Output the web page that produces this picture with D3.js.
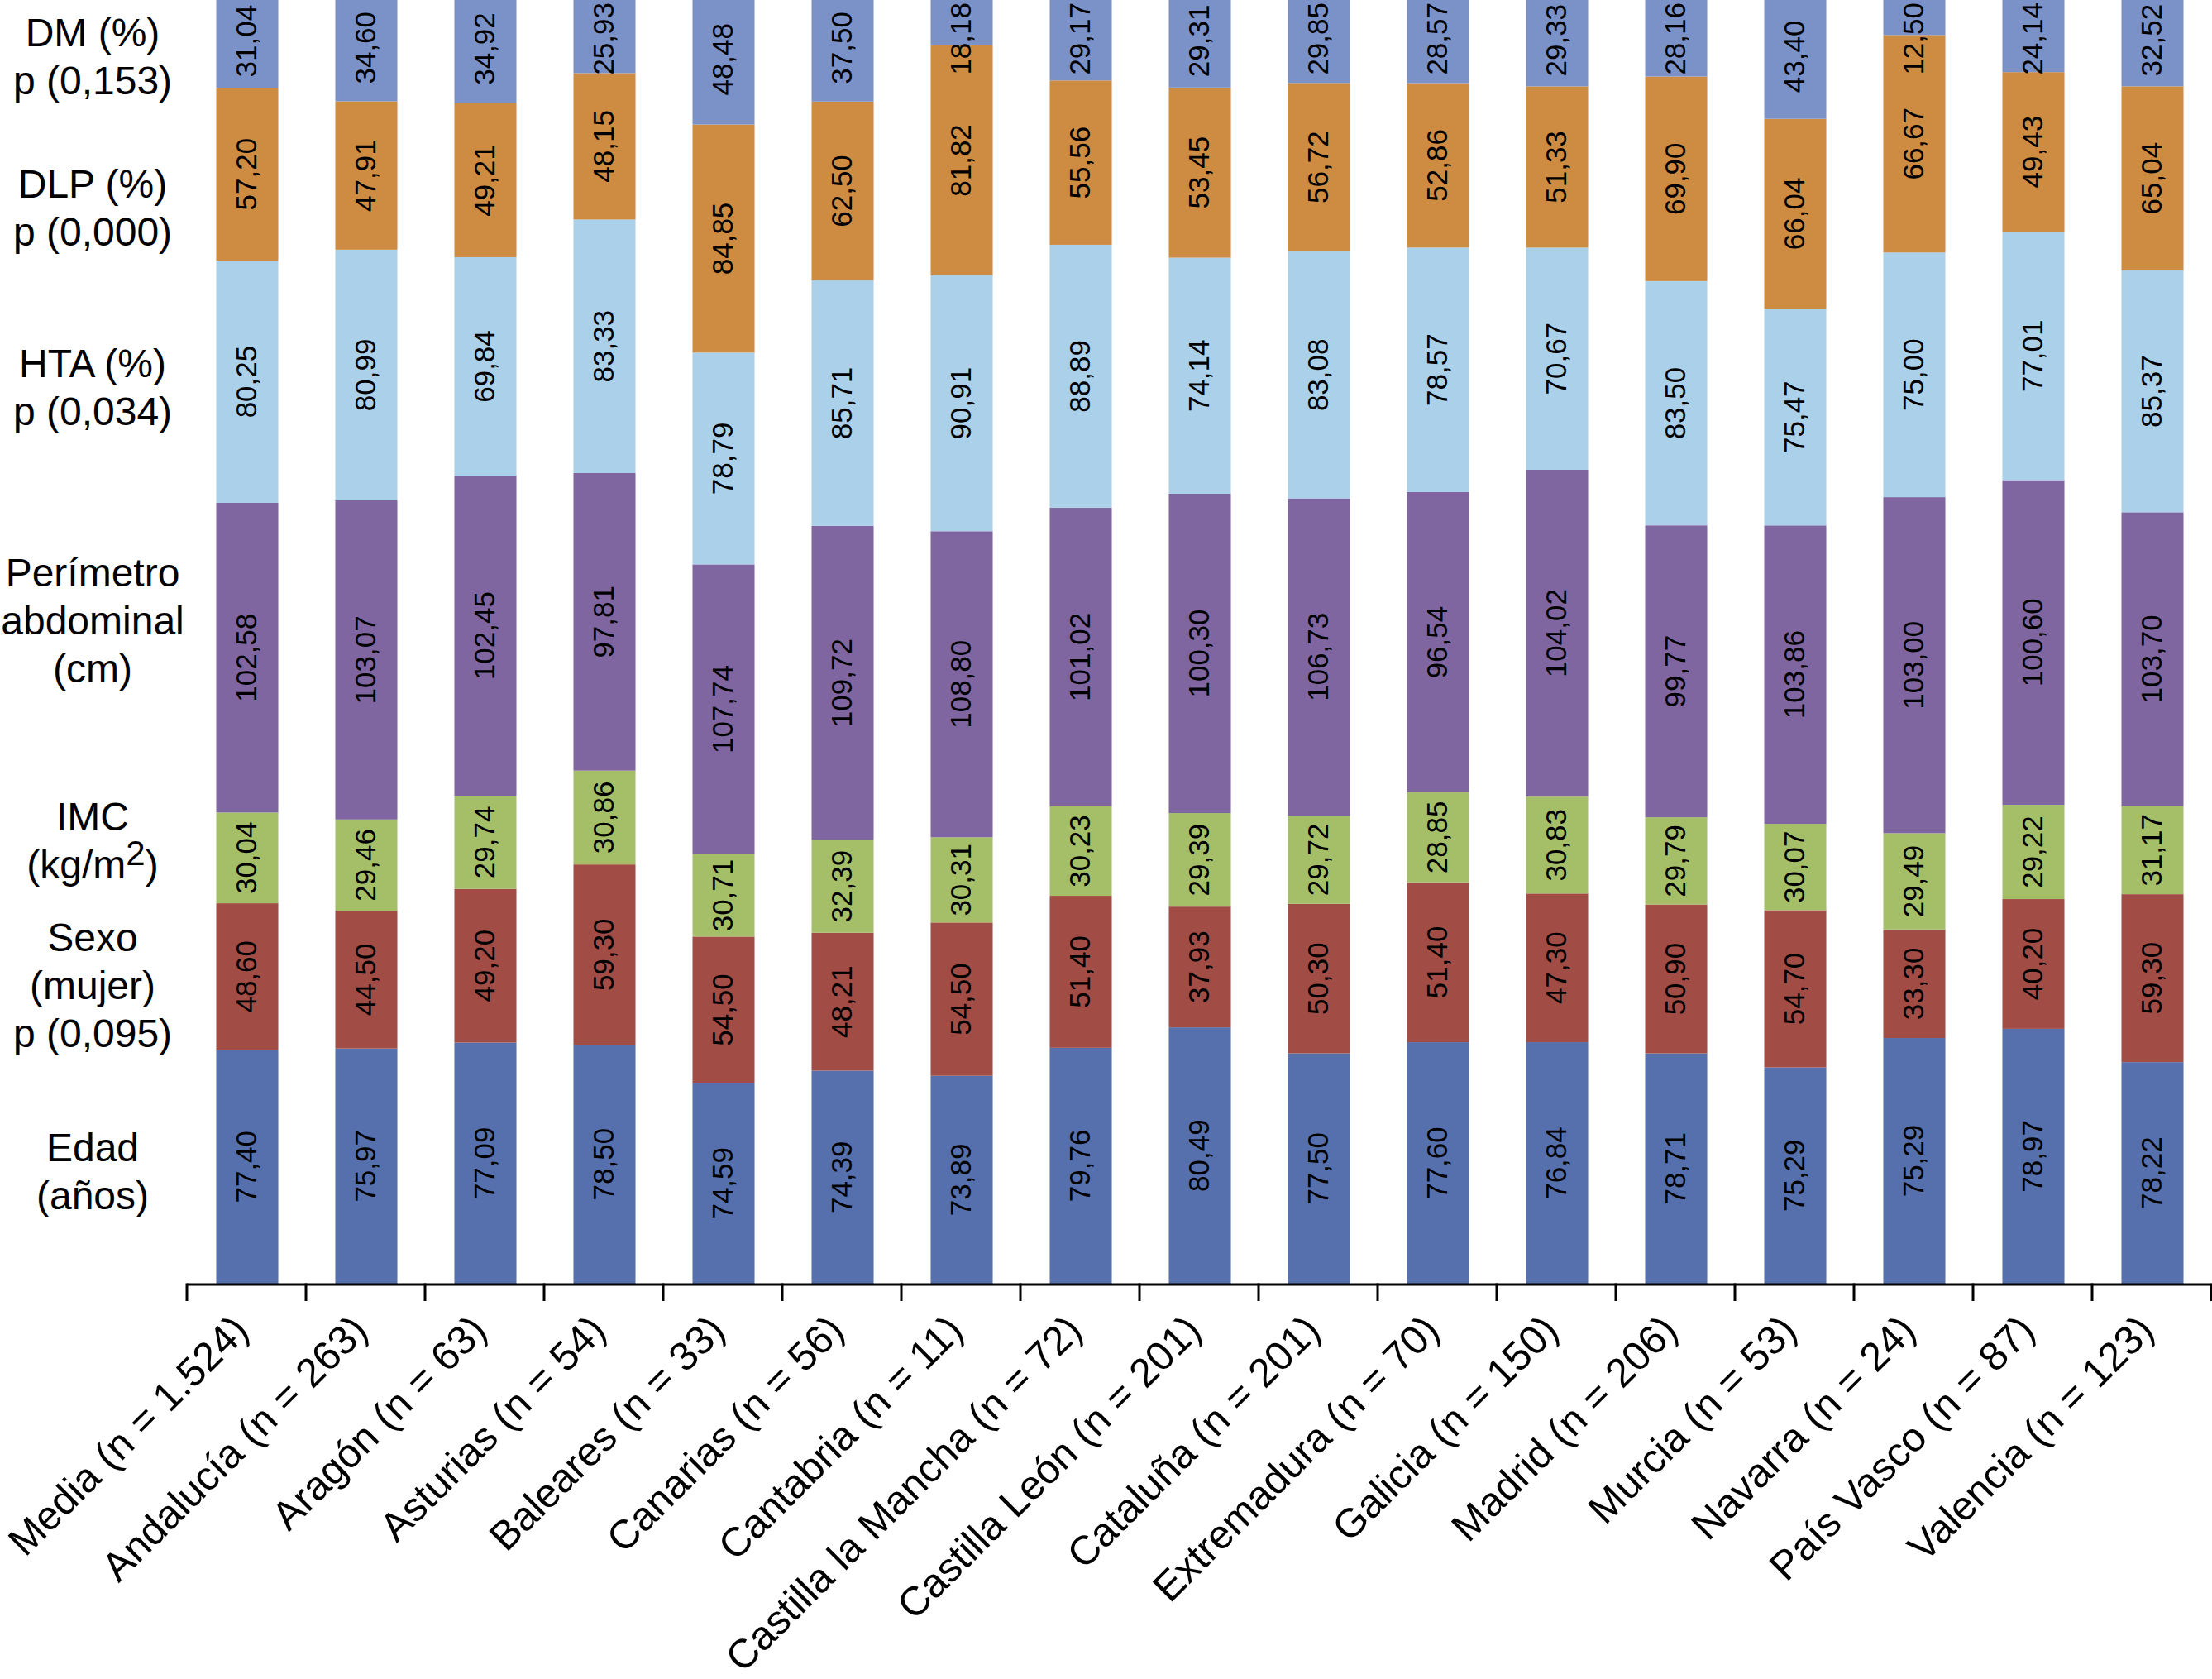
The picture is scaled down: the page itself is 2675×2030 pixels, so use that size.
<!DOCTYPE html>
<html>
<head>
<meta charset="utf-8">
<script src="https://cdn.jsdelivr.net/npm/d3@7"></script>
<style>
  html, body { margin: 0; padding: 0; background: #ffffff; }
  svg { display: block; }
  text { font-family: "Liberation Sans", Arial, Helvetica, sans-serif; fill: #000; }
</style>
</head>
<body>
<svg id="chart" width="2675" height="2030"></svg>
<script>
// ---------------- DATA ----------------
const categories = [
  "Media (n = 1.524)", "Andalucía (n = 263)", "Aragón (n = 63)", "Asturias (n = 54)",
  "Baleares (n = 33)", "Canarias (n = 56)", "Cantabria (n = 11)", "Castilla la Mancha (n = 72)",
  "Castilla León (n = 201)", "Cataluña (n = 201)", "Extremadura (n = 70)", "Galicia (n = 150)",
  "Madrid (n = 206)", "Murcia (n = 53)", "Navarra (n = 24)", "País Vasco (n = 87)", "Valencia (n = 123)"
];
const edad      = [77.40, 75.97, 77.09, 78.50, 74.59, 74.39, 73.89, 79.76, 80.49, 77.50, 77.60, 76.84, 78.71, 75.29, 75.29, 78.97, 78.22];
const sexo      = [48.60, 44.50, 49.20, 59.30, 54.50, 48.21, 54.50, 51.40, 37.93, 50.30, 51.40, 47.30, 50.90, 54.70, 33.30, 40.20, 59.30];
const imc       = [30.04, 29.46, 29.74, 30.86, 30.71, 32.39, 30.31, 30.23, 29.39, 29.72, 28.85, 30.83, 29.79, 30.07, 29.49, 29.22, 31.17];
const perimetro = [102.58, 103.07, 102.45, 97.81, 107.74, 109.72, 108.80, 101.02, 100.30, 106.73, 96.54, 104.02, 99.77, 103.86, 103.00, 100.60, 103.70];
const hta       = [80.25, 80.99, 69.84, 83.33, 78.79, 85.71, 90.91, 88.89, 74.14, 83.08, 78.57, 70.67, 83.50, 75.47, 75.00, 77.01, 85.37];
const dlp       = [57.20, 47.91, 49.21, 48.15, 84.85, 62.50, 81.82, 55.56, 53.45, 56.72, 52.86, 51.33, 69.90, 66.04, 66.67, 49.43, 65.04];
const dm        = [31.04, 34.60, 34.92, 25.93, 48.48, 37.50, 18.18, 29.17, 29.31, 29.85, 28.57, 29.33, 28.16, 43.40, 12.50, 24.14, 32.52];

const seriesKeys = ["edad", "sexo", "imc", "perimetro", "hta", "dlp", "dm"];
const seriesLabels = [
  ["Edad", "(años)"],
  ["Sexo", "(mujer)", "p (0,095)"],
  ["IMC", "(kg/m2)"],
  ["Perímetro", "abdominal", "(cm)"],
  ["HTA (%)", "p (0,034)"],
  ["DLP (%)", "p (0,000)"],
  ["DM (%)", "p (0,153)"]
];
const seriesColors = ["#5570AC", "#A24C46", "#A5BF68", "#7F66A0", "#AAD0EA", "#CE8B42", "#7B92C8"];

// ---------------- LAYOUT ----------------
const svg = d3.select("#chart");
const plotLeft = 226, plotRight = 2674, plotBottom = 1552, plotTop = -7;

const valuesBySeries = { edad, sexo, imc, perimetro, hta, dlp, dm };
const rows = categories.map((c, i) => {
  const r = { cat: c };
  seriesKeys.forEach(k => r[k] = valuesBySeries[k][i]);
  return r;
});

const stacked = d3.stack().keys(seriesKeys).offset(d3.stackOffsetExpand)(rows);

const x = d3.scaleBand().domain(categories).range([plotLeft, plotRight])
  .paddingInner(0.479).paddingOuter(0.2395);
const y = d3.scaleLinear().domain([0, 1]).range([plotBottom, plotTop]);
const color = d3.scaleOrdinal().domain(seriesKeys).range(seriesColors);

const es = d3.formatLocale({ decimal: ",", thousands: ".", grouping: [3], currency: ["", "€"] });
const fmt = es.format(".2f");

// bars
const layers = svg.append("g").selectAll("g").data(stacked).join("g")
  .attr("fill", d => color(d.key));
layers.selectAll("rect").data(d => d.map(p => ({ p, key: d.key }))).join("rect")
  .attr("x", d => x(d.p.data.cat) + 1)
  .attr("width", x.bandwidth())
  .attr("y", d => y(d.p[1]))
  .attr("height", d => y(d.p[0]) - y(d.p[1]));

// value labels (kept inside the visible area, as in the original)
const lbl = svg.append("g");
stacked.forEach(layer => {
  layer.forEach(p => {
    const cx = x(p.data.cat) + 1 + x.bandwidth() / 2 - 2;
    let cy = (y(p[0]) + y(p[1])) / 2;
    const t = lbl.append("text")
      .attr("text-anchor", "middle")
      .attr("dominant-baseline", "central")
      .style("font-size", "35px")
      .text(fmt(p.data[layer.key]));
    const half = t.node().getComputedTextLength() / 2;
    if (cy - half < 3) cy = half + 3;
    t.attr("transform", `translate(${cx},${cy}) rotate(-90)`);
  });
});

// x axis: line + ticks at band boundaries
const step = x.step();
const boundaries = categories.map(c => x(c) + x.bandwidth() / 2 - step / 2);
boundaries.push(boundaries[boundaries.length - 1] + step);
const axisY = plotBottom + 1;
const axis = svg.append("g");
axis.append("line")
  .attr("x1", boundaries[0]).attr("x2", boundaries[boundaries.length - 1])
  .attr("y1", axisY).attr("y2", axisY)
  .attr("stroke", "#000").attr("stroke-width", 3);
axis.selectAll("line.tick").data(boundaries).join("line")
  .attr("class", "tick")
  .attr("x1", d => d).attr("x2", d => d)
  .attr("y1", axisY - 1.5).attr("y2", axisY + 20)
  .attr("stroke", "#000").attr("stroke-width", 3);

// category labels
axis.selectAll("text.cat").data(categories).join("text")
  .attr("class", "cat")
  .attr("transform", d => `translate(${x(d) + x.bandwidth() / 2 + 5},${axisY + 58}) rotate(-45)`)
  .attr("text-anchor", "end")
  .style("font-size", "49px")
  .text(d => d);

// series labels on the left, anchored to Media bar segments
const labelNudge = [5, 10, -21, -45, 6, 40, 18];
const lineH = 58;
const leftG = svg.append("g");
stacked.forEach((layer, si) => {
  const p = layer[0];
  const centre = (y(p[0]) + y(p[1])) / 2 + labelNudge[si];
  const lines = seriesLabels[si];
  const firstBaseline = centre - (lines.length - 1) * lineH / 2 + 17;
  lines.forEach((ln, li) => {
    const t = leftG.append("text")
      .attr("x", 112)
      .attr("y", firstBaseline + li * lineH)
      .attr("text-anchor", "middle")
      .style("font-size", "48px");
    if (ln === "(kg/m2)") {
      t.append("tspan").text("(kg/m");
      t.append("tspan").attr("dy", -16).style("font-size", "42px").text("2");
      t.append("tspan").attr("dy", 16).text(")");
    } else {
      t.text(ln);
    }
  });
});
</script>
</body>
</html>
